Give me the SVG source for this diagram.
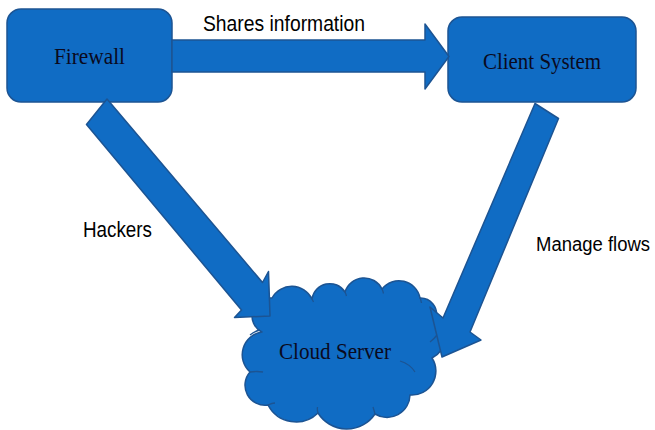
<svg xmlns="http://www.w3.org/2000/svg" width="655" height="430" viewBox="0 0 655 430">
<defs>
<style>
.shape{fill:#106cc4;stroke:#1c5493;stroke-width:1.5;stroke-linejoin:round}
.inner{fill:none;stroke:#1c5493;stroke-width:1.3}
.ntext{font-family:"Liberation Serif","Times New Roman",serif;font-size:24px;fill:#0a0a1e;text-anchor:middle}
.ltext{font-family:"Liberation Sans",Arial,sans-serif;font-size:22px;fill:#000}
</style>
</defs>
<rect width="655" height="430" fill="#ffffff"/>
<g id="node-firewall">
<rect class="shape" x="7" y="9" width="165" height="93" rx="14" ry="14"/>
<text class="ntext" x="89.5" y="64" textLength="71" lengthAdjust="spacingAndGlyphs">Firewall</text>
</g>
<g id="node-client">
<rect class="shape" x="448" y="17" width="188" height="85" rx="14" ry="14"/>
<text class="ntext" x="542" y="69" textLength="118" lengthAdjust="spacingAndGlyphs">Client System</text>
</g>
<g id="node-cloud">
<path class="shape" d="M262,332 A18,18 0 0 1 272,298 A22.5,22.5 0 0 1 312,299 A18,18 0 0 1 345,292 A20,20 0 0 1 382,289 A21.5,21.5 0 0 1 420,298 A16,16 0 0 1 436,318 A24,24 0 0 1 432,358 A24,24 0 0 1 410,395 A23,23 0 0 1 375,414 A34,34 0 0 1 318,413 A31.5,31.5 0 0 1 268,405 A20,20 0 0 1 250,372 A23,23 0 0 1 262,332 Z"/>
<path class="inner" d="M250,335 Q255,331 260,330 M312,299 Q313,301 313.5,302 M345,292 Q346,294 346.5,296 M382,289 Q383,291 383.5,293.5 M420,298 Q421,300 421.5,303 M400,361 Q410,364 415,372 M375,414 Q374,410 373,407 M318,413 Q317,410 317.5,407 M268,405 Q272,403 275,403 M250,372 Q257,371 263,372 M430,342 Q434,339 437,335"/>
<text class="ntext" x="335" y="359" textLength="112" lengthAdjust="spacingAndGlyphs">Cloud Server</text>
</g>
<g id="connectors">
<polygon id="edge-shares" class="shape" points="172,40 425,40 425,24 449,56.5 425,89 425,72 172,72"/>
<polygon id="edge-hackers" class="shape" points="107,99 262.5,282.5 268.5,271.5 270,316 234.5,317.5 241.5,310 86.5,124.5"/>
<polygon id="edge-manage" class="shape" points="535,103.5 443,318 430,307 442,357 481,340 470,332 558.5,118.5"/>
<text class="ltext" x="203" y="31" textLength="162" lengthAdjust="spacingAndGlyphs">Shares information</text>
<text class="ltext" x="83" y="237" textLength="69" lengthAdjust="spacingAndGlyphs">Hackers</text>
<text class="ltext" x="536" y="251" font-size="20" textLength="114" lengthAdjust="spacingAndGlyphs" style="font-size:20px">Manage flows</text>
</g>
</svg>
